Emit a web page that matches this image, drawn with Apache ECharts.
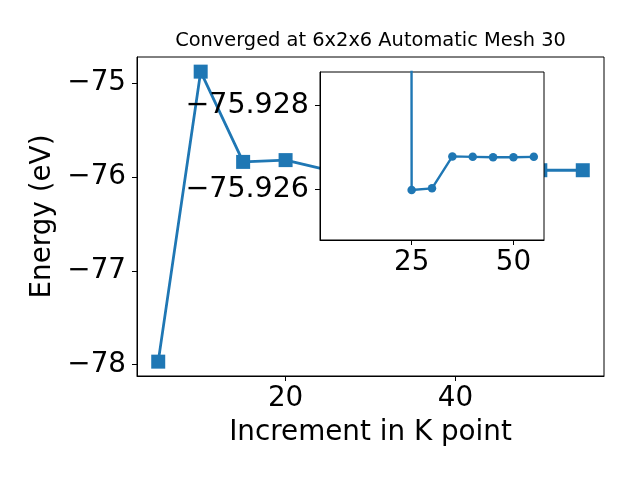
<!DOCTYPE html>
<html>
<head>
<meta charset="utf-8">
<script src="https://cdn.jsdelivr.net/npm/echarts@6/dist/echarts.min.js"></script>
<style>html,body{margin:0;padding:0;background:#fff}#c{width:640px;height:480px}</style>
</head>
<body>
<div id="c"></div>
<script>
// Main series: k-point increment vs energy
const kPoints = [5, 10, 15, 20, 25, 30, 35, 40, 45, 50, 55];
const energy = [-77.967, -74.876, -75.838, -75.819, -75.926, -75.926, -75.9268, -75.9268, -75.9268, -75.9268, -75.9268];
// Inset (zoomed) series; first point lies far off the top of the inset
const insetK = [20, 25, 30, 35, 40, 45, 50, 55];
const insetEnergy = [-76.5, -75.92598, -75.92602, -75.92678, -75.92677, -75.92676, -75.92676, -75.92677];
// Tick values
const mainXTicks = [20, 40];
const mainYTicks = [-78, -77, -76, -75];
const insetXTicks = [25, 50];
const insetYTicks = [-75.928, -75.926];

const FONT = 'DejaVu Sans';
const BLUE = '#1f77b4';
const minus = s => String(s).replace('-', '\u2212');

const chart = echarts.init(document.getElementById('c'), null, {renderer: 'canvas'});
const tickStyle = {show: true, inside: false, length: 5, lineStyle: {color: '#000', width: 1}};
chart.setOption({
  animation: false,
  backgroundColor: '#fff',
  title: {
    text: 'Converged at 6x2x6 Automatic Mesh 30',
    left: 370.5, top: 31, textAlign: 'center', padding: 0,
    textStyle: {fontFamily: FONT, fontSize: 19.4, fontWeight: 'normal', color: '#000'}
  },
  grid: [
    {left: 137, top: 57, width: 467, height: 319, show: true, borderColor: '#000', borderWidth: 1,
     backgroundColor: '#fff', outerBoundsMode: 'none', containLabel: false, z: 0},
    {left: 320, top: 72, width: 224, height: 168, show: true, borderColor: '#000', borderWidth: 1,
     backgroundColor: '#fff', outerBoundsMode: 'none', containLabel: false, z: 10}
  ],
  xAxis: [
    {gridIndex: 0, type: 'value', min: 2.5, max: 57.5,
     name: 'Increment in K point', nameLocation: 'middle', nameGap: 43,
     nameTextStyle: {fontFamily: FONT, fontSize: 27.8, color: '#000'},
     axisLine: {show: true, onZero: false, lineStyle: {color: '#000', width: 1}},
     axisTick: Object.assign({customValues: mainXTicks}, tickStyle),
     axisLabel: {customValues: mainXTicks, margin: 9, fontFamily: FONT, fontSize: 27.8, color: '#000', formatter: v => minus(v)},
     splitLine: {show: false}},
    {gridIndex: 1, type: 'value', min: 2.5, max: 57.5, z: 11,
     axisLine: {show: true, onZero: false, lineStyle: {color: '#000', width: 1}},
     axisTick: Object.assign({customValues: insetXTicks}, tickStyle),
     axisLabel: {customValues: insetXTicks, margin: 9, fontFamily: FONT, fontSize: 27.8, color: '#000', formatter: v => minus(v)},
     splitLine: {show: false}}
  ],
  yAxis: [
    {gridIndex: 0, type: 'value', min: -78.12, max: -74.72,
     name: 'Energy (eV)', nameLocation: 'middle', nameGap: 80, nameRotate: 90,
     nameTextStyle: {fontFamily: FONT, fontSize: 27.8, color: '#000'},
     axisLine: {show: true, onZero: false, lineStyle: {color: '#000', width: 1}},
     axisTick: Object.assign({customValues: mainYTicks}, tickStyle),
     axisLabel: {customValues: mainYTicks, margin: 11, fontFamily: FONT, fontSize: 27.8, color: '#000', formatter: v => minus(v)},
     splitLine: {show: false}},
    {gridIndex: 1, type: 'value', min: -75.92879, max: -75.92479, inverse: true, z: 11,
     axisLine: {show: true, onZero: false, lineStyle: {color: '#000', width: 1}},
     axisTick: Object.assign({customValues: insetYTicks}, tickStyle),
     axisLabel: {customValues: insetYTicks, margin: 11, fontFamily: FONT, fontSize: 28.5, color: '#000',
       formatter: v => minus(Number(v).toFixed(3))},
     splitLine: {show: false}}
  ],
  series: [
    {type: 'line', xAxisIndex: 0, yAxisIndex: 0, z: 2,
     data: kPoints.map((k, i) => [k, energy[i]]),
     symbol: 'rect', symbolSize: 14, showSymbol: true,
     itemStyle: {color: BLUE}, lineStyle: {color: BLUE, width: 2.8}, emphasis: {disabled: true}},
    {type: 'line', xAxisIndex: 1, yAxisIndex: 1, z: 12, clip: true,
     data: insetK.map((k, i) => [k, insetEnergy[i]]),
     symbol: 'circle', symbolSize: 8.5, showSymbol: true,
     itemStyle: {color: BLUE}, lineStyle: {color: BLUE, width: 2.4}, emphasis: {disabled: true}}
  ]
});
</script>
</body>
</html>
